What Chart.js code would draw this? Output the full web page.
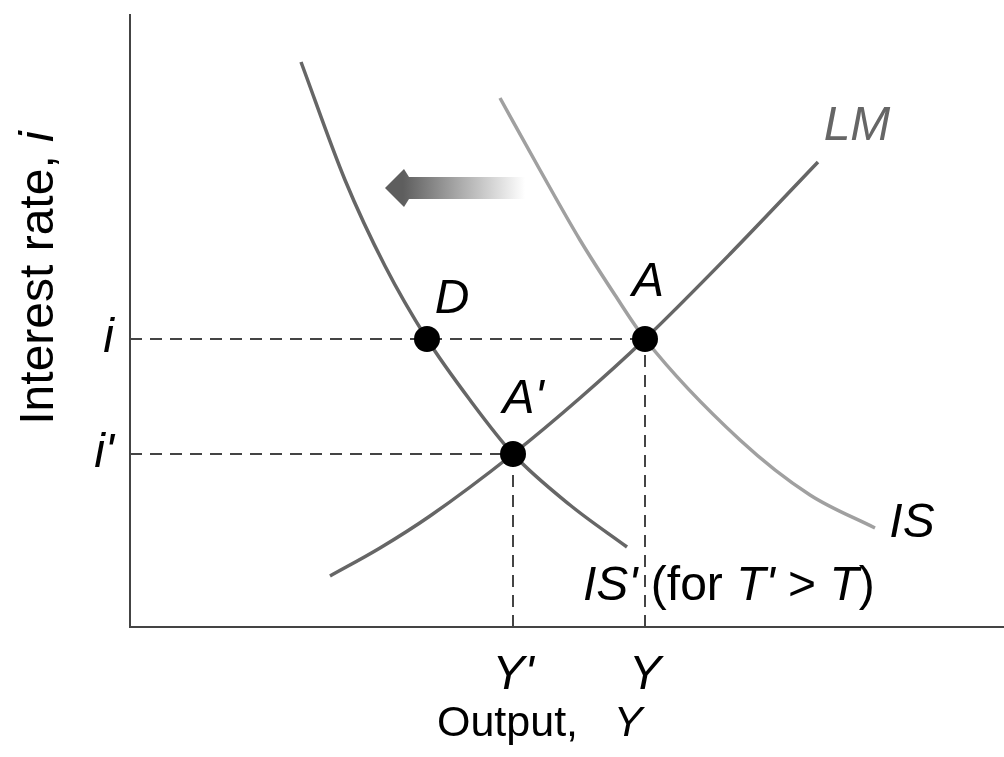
<!DOCTYPE html>
<html>
<head>
<meta charset="utf-8">
<script src="https://cdn.jsdelivr.net/npm/chart.js@4.4.1/dist/chart.umd.min.js"></script>
<style>
  html, body { margin: 0; padding: 0; background: #fff; overflow: hidden; }
  canvas { display: block; }
</style>
</head>
<body>
<canvas id="c" width="1004" height="757"></canvas>
<script>
// IS-LM: a tax increase shifts IS to IS', equilibrium moves A -> A'

// ── Data (abstract units: output on x, interest rate on y) ──────────────
const lmX  = [200, 250, 300, 383, 450, 515, 600, 688];
const lmY  = [51, 79, 111, 173, 229, 288, 373, 465];
const isX  = [370, 410, 450, 485, 515, 610, 680, 745];
const isY  = [529, 457, 387, 332, 288, 187, 132, 99];
const is2X = [171, 215, 255, 297, 340, 383, 440, 497];
const is2Y = [565, 447, 361, 288, 227, 173, 122, 80];

const eqNames = ["D", "A", "A'"];
const eqX     = [297, 515, 383];
const eqY     = [288, 288, 173];

const yTickVals = [173, 288];
const yTickText = ["i'", "i"];
const xTickVals = [383, 515];
const xTickText = ["Y'", "Y"];

// ── Look ────────────────────────────────────────────────────────────────
const FAMILY = '"Liberation Sans", Arial, Helvetica, sans-serif';
const FS     = 48;
const font   = (it, size) => `${it ? "italic " : ""}${size || FS}px ${FAMILY}`;
const pts    = (xs, ys) => xs.map((x, i) => ({ x, y: ys[i] }));

// dashed guide lines built from the equilibrium points
const A = 1, A2 = 2;
const guides = [
  [{ x: 0, y: eqY[A] },  { x: eqX[A],  y: eqY[A] }],
  [{ x: 0, y: eqY[A2] }, { x: eqX[A2], y: eqY[A2] }],
  [{ x: eqX[A2], y: 0 }, { x: eqX[A2], y: eqY[A2] }],
  [{ x: eqX[A],  y: 0 }, { x: eqX[A],  y: eqY[A] }]
];

// text placed on the plot, anchored in data units
const notes = [
  { segs: [["D", 1]],  at: [322, 327], align: "center" },
  { segs: [["A", 1]],  at: [518, 344], align: "center" },
  { segs: [["A'", 1]], at: [393, 227], align: "center" },
  { segs: [["LM", 1]], at: [727, 500], align: "center", color: "#666" },
  { segs: [["IS", 1]], at: [782, 103], align: "center" },
  { segs: [["IS'", 1], [" (for ", 0], ["T'", 1], [" > ", 0], ["T", 1], [")", 0]], at: [453, 40], align: "left" }
];
const arrowTip = [255, 439], arrowTail = [395, 439];

function drawRich(ctx, segs, x, y, align, size) {
  let w = 0;
  segs.forEach(s => { ctx.font = font(s[1], size); w += ctx.measureText(s[0]).width; });
  let cx = align === "center" ? x - w / 2 : x;
  segs.forEach(s => { ctx.font = font(s[1], size); ctx.fillText(s[0], cx, y); cx += ctx.measureText(s[0]).width; });
}

const decor = {
  id: "decor",
  afterDatasetsDraw(chart) {
    const { ctx, chartArea: ca, scales: { x, y } } = chart;
    ctx.save();

    // shift arrow
    const tx = x.getPixelForValue(arrowTip[0]), ty = y.getPixelForValue(arrowTip[1]);
    const ex = x.getPixelForValue(arrowTail[0]);
    const g = ctx.createLinearGradient(tx + 18, 0, ex, 0);
    g.addColorStop(0, "#5e5e5e");
    g.addColorStop(0.45, "#a8a8a8");
    g.addColorStop(1, "rgba(255,255,255,1)");
    ctx.fillStyle = g;
    ctx.beginPath();
    ctx.moveTo(tx, ty);
    ctx.lineTo(tx + 19, ty - 19);
    ctx.lineTo(tx + 24, ty - 11);
    ctx.lineTo(ex, ty - 11);
    ctx.lineTo(ex, ty + 11);
    ctx.lineTo(tx + 24, ty + 11);
    ctx.lineTo(tx + 19, ty + 19);
    ctx.closePath();
    ctx.fill();

    // labels
    ctx.textBaseline = "middle";
    notes.forEach(n => {
      ctx.fillStyle = n.color || "#000";
      drawRich(ctx, n.segs, x.getPixelForValue(n.at[0]), y.getPixelForValue(n.at[1]), n.align);
    });

    // axis titles
    ctx.fillStyle = "#000";
    drawRich(ctx, [["Output,", 0], ["   ", 0], ["Y", 1]], x.getPixelForValue(307), ca.bottom + 97, "left", 43);
    ctx.translate(ca.left - 90, y.getPixelForValue(349));
    ctx.rotate(-Math.PI / 2);
    drawRich(ctx, [["Interest rate, ", 0], ["i", 1]], 0, 0, "center", 48);
    ctx.restore();
  }
};

const curve = (data, color, order) => ({
  data, showLine: true, borderColor: color, borderWidth: 3.5,
  pointRadius: 0, cubicInterpolationMode: "monotone", fill: false, order
});

const datasets = [
  { data: pts(eqX, eqY), showLine: false, pointRadius: 13, pointBackgroundColor: "#000",
    pointBorderWidth: 0, order: 0 },
  curve(pts(lmX, lmY), "#666", 1),
  curve(pts(is2X, is2Y), "#666", 1),
  curve(pts(isX, isY), "#a0a0a0", 1),
  ...guides.map(gd => ({ data: gd, showLine: true, borderColor: "#444", borderWidth: 2,
    borderDash: [12, 8], pointRadius: 0, order: 2 }))
];

new Chart(document.getElementById("c"), {
  type: "scatter",
  data: { datasets },
  options: {
    responsive: false, animation: false, devicePixelRatio: 1,
    layout: { autoPadding: false, padding: { top: 15, right: 0, left: 0, bottom: 0 } },
    plugins: { legend: { display: false }, tooltip: { enabled: false } },
    scales: {
      x: {
        type: "linear", min: 0, max: 874,
        afterFit: s => { s.height = 130; s.paddingLeft = 0; s.paddingRight = 0; },
        afterBuildTicks: s => { s.ticks = xTickVals.map(v => ({ value: v })); },
        grid: { display: false, drawTicks: false },
        border: { display: true, color: "#444", width: 2 },
        ticks: { autoSkip: false, maxRotation: 0, padding: 20, color: "#000",
          font: { family: FAMILY, size: FS, style: "italic" },
          callback: (v, i) => xTickText[i] }
      },
      y: {
        type: "linear", min: 0, max: 612,
        afterFit: s => { s.width = 130; s.paddingTop = 0; s.paddingBottom = 0; },
        afterBuildTicks: s => { s.ticks = yTickVals.map(v => ({ value: v })); },
        grid: { display: false, drawTicks: false },
        border: { display: true, color: "#444", width: 2 },
        ticks: { autoSkip: false, padding: 16, color: "#000",
          font: { family: FAMILY, size: FS, style: "italic" },
          callback: (v, i) => yTickText[i] }
      }
    }
  },
  plugins: [decor]
});
</script>
</body>
</html>
